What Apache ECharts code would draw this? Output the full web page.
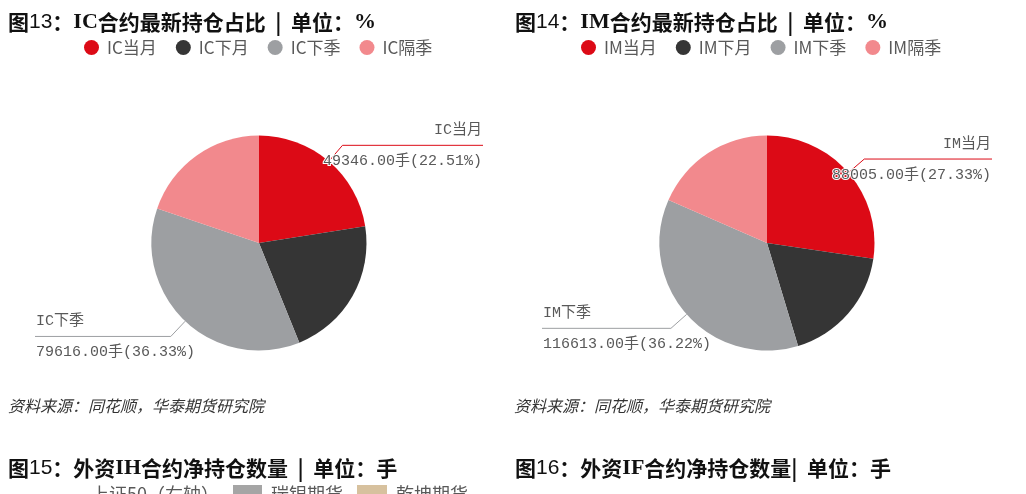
<!DOCTYPE html>
<html>
<head>
<meta charset="utf-8">
<script src="https://cdn.jsdelivr.net/npm/echarts@6/dist/echarts.min.js"></script>
<style>
html,body{margin:0;padding:0;background:#fff;}
#main{width:1026px;height:494px;}
</style>
</head>
<body>
<div id="main"></div>
<script>
const icNames = ['IC当月', 'IC下月', 'IC下季', 'IC隔季'];
const icValues = [49346, 46820, 79616, 43390];
const imNames = ['IM当月', 'IM下月', 'IM下季', 'IM隔季'];
const imValues = [88005, 57956, 116613, 59406];
const labelShown = [true, false, true, false];
const sliceColors = ['#DC0A16', '#353535', '#9D9FA2', '#F2898D'];
const sourceText = '资料来源：同花顺，华泰期货研究院';
const bottomLegendNames = ['上证50（右轴）', '瑞银期货', '乾坤期货'];

const chart = echarts.init(document.getElementById('main'), null, {renderer: 'canvas'});

const CJK = '"Noto Sans CJK SC", "Noto Sans", sans-serif';
const MONO = '"Liberation Mono", "Noto Sans CJK SC", monospace';

function buildData(names, values) {
  return names.map((n, i) => ({
    name: n,
    value: values[i],
    itemStyle: {color: sliceColors[i]},
    label: {show: labelShown[i]},
    labelLine: {show: labelShown[i]}
  }));
}

function makeFormatter(values) {
  const total = values.reduce((a, b) => a + b, 0);
  return function (p) {
    const pct = (p.value / total * 100).toFixed(2);
    return '{n|' + p.name + '}\n{v|' + p.value.toFixed(2) + '手(' + pct + '%)}';
  };
}

const labelRich = {
  n: {fontSize: 15, fontFamily: MONO, color: '#595959', lineHeight: 31, textBorderColor: '#fff', textBorderWidth: 2},
  v: {fontSize: 15, fontFamily: MONO, color: '#595959', lineHeight: 31, textBorderColor: '#fff', textBorderWidth: 2}
};

function labelLayout(params) {
  const pts = params.labelLinePoints;
  if (!pts) return {};
  const isLeft = pts[1][0] < pts[0][0];
  pts[2][0] = isLeft ? params.labelRect.x : params.labelRect.x + params.labelRect.width;
  return {labelLinePoints: pts};
}

function pieSeries(name, names, values, left, width) {
  return {
    name: name,
    type: 'pie',
    left: left,
    width: width,
    top: 0,
    height: 494,
    center: [width / 2, 243],
    radius: [0, 107.5],
    startAngle: 90,
    clockwise: true,
    avoidLabelOverlap: false,
    silent: true,
    itemStyle: {borderWidth: 0},
    label: {
      alignTo: 'edge',
      edgeDistance: 36,
      formatter: makeFormatter(values),
      rich: labelRich
    },
    labelLine: {length: 21, length2: 0, lineStyle: {width: 1}},
    labelLayout: labelLayout,
    data: buildData(names, values)
  };
}

function headingRich() {
  return {
    a: {fontSize: 21, fontWeight: 'bold', fontFamily: CJK, color: '#111'},
    d: {fontSize: 21, fontWeight: 'normal', fontFamily: '"Liberation Sans", Arial, sans-serif', color: '#111'},
    s: {fontSize: 22, fontWeight: 'bold', fontFamily: '"Liberation Serif", "Times New Roman", serif', color: '#111'}
  };
}

function heading(text, left, top) {
  return {text: text, left: left, top: top, padding: 0, textStyle: {rich: headingRich()}};
}

const legendText = {fontSize: 17, color: '#595959', fontFamily: CJK, padding: [0, 0, 0, 3]};

const smallFont = '18px "Noto Sans CJK SC", sans-serif';
const graphics = [
  {type: 'text', left: 8, top: 398, style: {text: sourceText, fill: '#333', font: 'italic 16px "Noto Sans CJK SC", sans-serif'}},
  {type: 'text', left: 514, top: 398, style: {text: sourceText, fill: '#333', font: 'italic 16px "Noto Sans CJK SC", sans-serif'}},
  {type: 'text', x: 91, y: 494, style: {text: bottomLegendNames[0], font: smallFont, fill: '#595959', verticalAlign: 'middle'}},
  {type: 'rect', shape: {x: 233, y: 485, width: 29, height: 12}, style: {fill: '#A5A5A5'}},
  {type: 'text', x: 271, y: 494, style: {text: bottomLegendNames[1], font: smallFont, fill: '#595959', verticalAlign: 'middle'}},
  {type: 'rect', shape: {x: 357, y: 485, width: 30, height: 12}, style: {fill: '#D7C19E'}},
  {type: 'text', x: 396, y: 494, style: {text: bottomLegendNames[2], font: smallFont, fill: '#595959', verticalAlign: 'middle'}}
];

const legendBase = {padding: 0, icon: 'circle', itemWidth: 15, itemHeight: 15, itemGap: 19, textStyle: legendText, selectedMode: false, top: 39};

const option = {
  backgroundColor: '#fff',
  animation: false,
  title: [
    heading('{a|图}{d|13}{a|：}{s|IC}{a|合约最新持仓占比  |  单位：}{s|%}', 8, 11),
    heading('{a|图}{d|14}{a|：}{s|IM}{a|合约最新持仓占比  |  单位：}{s|%}', 515, 11),
    heading('{a|图}{d|15}{a|：外资}{s|IH}{a|合约净持仓数量  |  单位：手}', 8, 457),
    heading('{a|图}{d|16}{a|：外资}{s|IF}{a|合约净持仓数量|  单位：手}', 515, 457)
  ],
  legend: [
    Object.assign({data: icNames, left: 84}, legendBase),
    Object.assign({data: imNames, left: 581}, legendBase)
  ],
  series: [
    pieSeries('IC', icNames, icValues, 0, 518),
    pieSeries('IM', imNames, imValues, 507, 520)
  ],
  graphic: graphics
};

chart.setOption(option);
</script>
</body>
</html>
